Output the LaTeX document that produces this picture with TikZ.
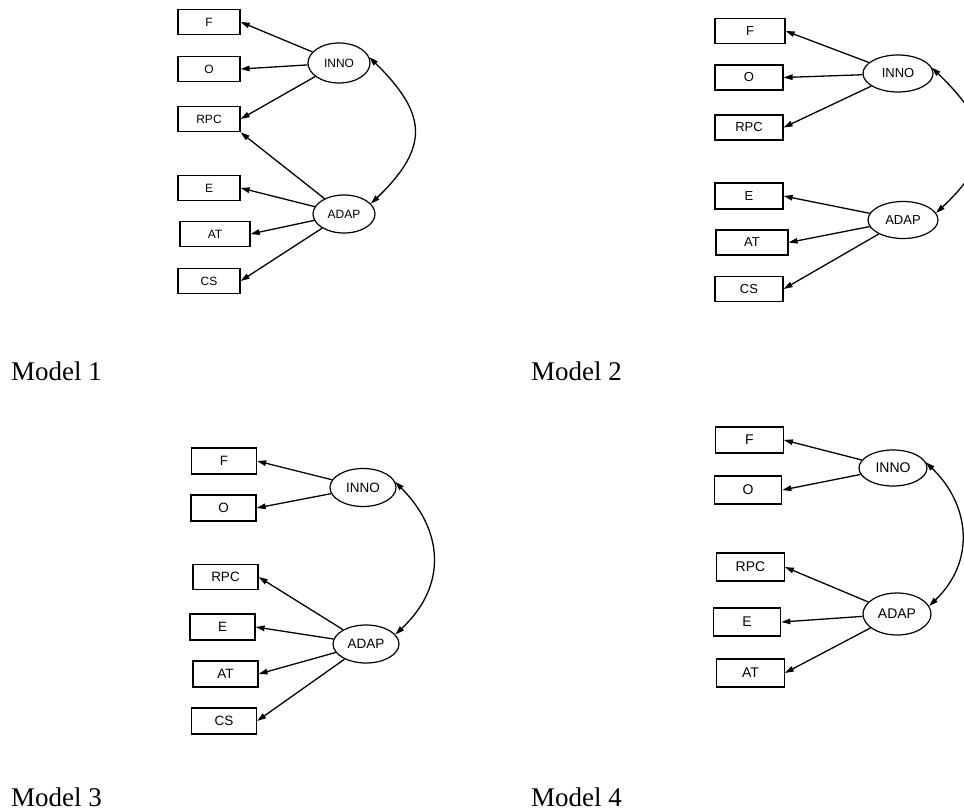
\documentclass[tikz,border=0pt]{standalone}
\usepackage{fontspec}
\setmainfont{Liberation Serif}
\newfontfamily\boxfont{Liberation Sans}
\usetikzlibrary{arrows.meta,shapes.geometric}

\tikzset{
  obs/.style={draw, rectangle, line width=1.2pt, inner sep=0pt},
  lat/.style={draw, ellipse, line width=1.2pt, inner sep=0pt},
  load/.style={line width=1.3pt, -{Triangle[length=9pt,width=5.5pt]}},
  cov/.style={line width=1.3pt, {Triangle[length=9pt,width=5.5pt]}-{Triangle[length=9pt,width=5.5pt]}},
  title/.style={anchor=base west, inner sep=0pt, font=\fontsize{27}{30}\selectfont},
}

\begin{document}
\begin{tikzpicture}[x=1pt,y=-1pt]
\useasboundingbox (0,0) rectangle (964,811);
\clip (0,0) rectangle (964,811);

% ---------- Model 1 ----------
\begin{scope}[obs/.append style={minimum width=62pt, minimum height=25.5pt},
              lat/.append style={minimum width=62pt, minimum height=39pt},
              every node/.append style={font=\boxfont\fontsize{12}{13}\selectfont}]
  \node[obs] (f1)   at (209,22)  {F};
  \node[obs] (o1)   at (209,69)  {O};
  \node[obs] (rpc1) at (209,119) {RPC};
  \node[obs] (e1)   at (209,188) {E};
  \node[obs, minimum width=70pt] (at1) at (215,234) {AT};
  \node[obs] (cs1)  at (209,281) {CS};
  \node[lat, minimum height=40pt] (i1) at (339,63)  {INNO};
  \node[lat, minimum height=38pt] (a1) at (344,214) {ADAP};
  \draw[load] (i1) -- (f1.east);
  \draw[load] (i1) -- (o1.east);
  \draw[load] (i1) -- (rpc1.east);
  \draw[load] (a1) -- (rpc1.south east);
  \draw[load] (a1) -- (e1.east);
  \draw[load] (a1) -- (at1.east);
  \draw[load] (a1) -- (cs1.east);
  \draw[cov] (i1.11) .. controls (426,113) and (431,146) .. (a1.21);
\end{scope}

% ---------- Model 2 ----------
\begin{scope}[obs/.append style={minimum width=68pt, minimum height=25pt},
              lat/.append style={minimum width=70pt, minimum height=37pt},
              every node/.append style={font=\boxfont\fontsize{13}{14}\selectfont}]
  \node[obs, minimum width=70pt] (f2) at (750,31) {F};
  \node[obs] (o2)   at (749,77.5)  {O};
  \node[obs] (rpc2) at (749,127.5) {RPC};
  \node[obs, minimum height=26pt] (e2) at (749,196) {E};
  \node[obs, minimum width=72pt] (at2) at (752,242.5) {AT};
  \node[obs] (cs2)  at (749,289) {CS};
  \node[lat] (i2) at (898,73.5) {INNO};
  \node[lat] (a2) at (903,220)  {ADAP};
  \draw[load] (i2) -- (f2.east);
  \draw[load] (i2) -- (o2.east);
  \draw[load] (i2) -- (rpc2.east);
  \draw[load] (a2) -- (e2.east);
  \draw[load] (a2) -- (at2.east);
  \draw[load] (a2) -- (cs2.east);
  \draw[cov] (i2.10) .. controls (990,124) and (997,156) .. (a2.12);
\end{scope}

% ---------- Model 3 ----------
\begin{scope}[obs/.append style={minimum width=65pt, minimum height=26pt},
              lat/.append style={minimum width=66pt, minimum height=38pt},
              every node/.append style={font=\boxfont\fontsize{13.5}{14}\selectfont}]
  \node[obs] (f3)   at (224,461)   {F};
  \node[obs] (o3)   at (223.5,508) {O};
  \node[obs, minimum height=25pt] (rpc3) at (225.5,577) {RPC};
  \node[obs] (e3)   at (222.5,627) {E};
  \node[obs] (at3)  at (225.5,674) {AT};
  \node[obs] (cs3)  at (224,721)   {CS};
  \node[lat] (i3) at (363,487.5) {INNO};
  \node[lat] (a3) at (366,644)   {ADAP};
  \draw[load] (i3) -- (f3.east);
  \draw[load] (i3) -- (o3.east);
  \draw[load] (a3) -- (rpc3.east);
  \draw[load] (a3) -- (e3.east);
  \draw[load] (a3) -- (at3.east);
  \draw[load] (a3) -- (cs3.east);
  \draw[cov] (i3.10) .. controls (443,530) and (448,585) .. (a3.18);
\end{scope}

% ---------- Model 4 ----------
\begin{scope}[obs/.append style={minimum width=67.5pt, minimum height=28pt},
              lat/.append style={minimum width=68pt, minimum height=40pt},
              every node/.append style={font=\boxfont\fontsize{14}{15}\selectfont}]
  \node[obs, minimum height=26pt] (f4) at (749.5,440) {F};
  \node[obs] (o4)   at (748,490)   {O};
  \node[obs] (rpc4) at (750.5,567) {RPC};
  \node[obs] (e4)   at (747,622)   {E};
  \node[obs] (at4)  at (750.5,673) {AT};
  \node[lat, minimum height=36pt] (i4) at (893,468) {INNO};
  \node[lat, minimum height=42pt] (a4) at (897,614) {ADAP};
  \draw[load] (i4) -- (f4.east);
  \draw[load] (i4) -- (o4.east);
  \draw[load] (a4) -- (rpc4.east);
  \draw[load] (a4) -- (e4.east);
  \draw[load] (a4) -- (at4.east);
  \draw[cov] (i4.10) .. controls (970.5,505.5) and (975.5,561.5) .. (a4.14);
\end{scope}

% ---------- captions ----------
\node[title] (m1) at (11,380)  {Model 1};
\node[title] (m2) at (531,380) {Model 2};
\node[title] (m3) at (11,806)  {Model 3};
\node[title] (m4) at (531,806) {Model 4};
\end{tikzpicture}
\end{document}
